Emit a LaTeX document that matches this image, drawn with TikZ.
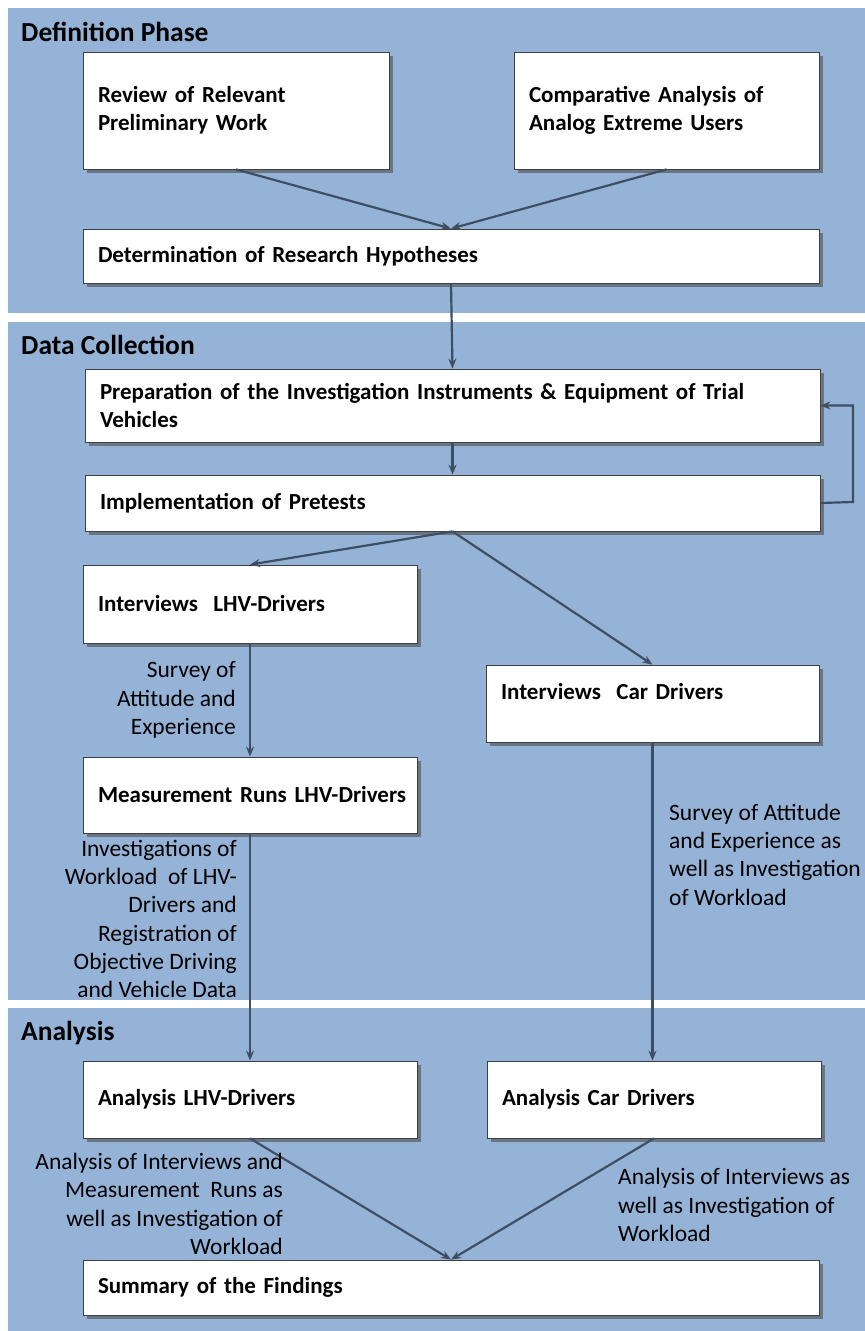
\documentclass[tikz,border=0pt]{standalone}
\usepackage{fontspec}
\setmainfont{Carlito}
\usetikzlibrary{arrows.meta,shadows}
\definecolor{panelblue}{HTML}{95B3D7}
\definecolor{arrowgray}{HTML}{3F4F63}
\definecolor{boxline}{HTML}{404040}
\tikzset{
  panel/.style={fill=panelblue, draw=none},
  phasetitle/.style={anchor=west, inner sep=0pt, font=\fontsize{27.5}{30}\selectfont\bfseries},
  stepbox/.style={draw=boxline, line width=0.8pt, fill=white, rectangle,
    inner xsep=15pt, inner ysep=0pt, align=left,
    font=\fontsize{23}{28}\selectfont\bfseries,
    drop shadow={opacity=0.6, shadow xshift=4pt, shadow yshift=-4pt, fill=black!70}},
  flowlabel/.style={inner sep=0pt, font=\fontsize{23.5}{28.3}\selectfont},
  flow/.style={draw=arrowgray, line width=2.2pt, -{Stealth[length=10pt,width=8pt]}},
}
\begin{document}
\begin{tikzpicture}[x=1pt,y=-1pt]
\useasboundingbox (0,0) rectangle (865,1331);
% panels
\fill[panel] (8,8) rectangle (865,313);
\fill[panel] (8,322) rectangle (865,1000);
\fill[panel] (8,1008) rectangle (865,1331);
\node[phasetitle] (t1) at (21,32) {Definition Phase};
\node[phasetitle] (t2) at (21,345) {Data Collection};
\node[phasetitle] (t3) at (21,1033) {Analysis};
% boxes
\node[stepbox, minimum width=306pt, minimum height=117pt, text width=276pt] (rev) at (236,110.5) {Review of Relevant\\Preliminary Work};
\node[stepbox, minimum width=305pt, minimum height=117pt, text width=275pt] (comp) at (666.5,110.5) {Comparative Analysis of\\Analog Extreme Users};
\node[stepbox, minimum width=736pt, minimum height=54pt, text width=706pt] (det) at (451,256) {Determination of Research Hypotheses};
\node[stepbox, minimum width=735pt, minimum height=73pt, text width=705pt] (prep) at (452.5,405.5) {Preparation of the Investigation Instruments \& Equipment of Trial\\Vehicles};
\node[stepbox, minimum width=735pt, minimum height=56pt, text width=705pt] (impl) at (452.5,503) {Implementation of Pretests};
\node[stepbox, minimum width=334pt, minimum height=78pt, text width=304pt] (ilhv) at (250,604) {Interviews\ \ LHV-Drivers};
\node[stepbox, minimum width=333pt, minimum height=77pt, text width=303pt] (icar) at (652.5,703.5) {Interviews\ \ Car Drivers\\[-4pt]\mbox{}};
\node[stepbox, minimum width=334pt, minimum height=76pt, text width=304pt] (meas) at (250,795) {\mbox{Measurement Runs LHV-Drivers}};
\node[stepbox, minimum width=334pt, minimum height=77pt, text width=304pt] (alhv) at (250,1099.5) {Analysis LHV-Drivers};
\node[stepbox, minimum width=334pt, minimum height=77pt, text width=304pt] (acar) at (654,1099.5) {Analysis Car Drivers};
\node[stepbox, minimum width=736pt, minimum height=55pt, text width=706pt] (sum) at (451,1287.5) {Summary of the Findings};
% connectors
\draw[flow] (rev.south) -- (det.north);
\draw[flow] (comp.south) -- (det.north);
\draw[flow] (det.south) -- (prep.north);
\draw[flow] (prep.south) -- (impl.north);
\coordinate (loop) at (853,502);
\draw[flow] (impl.east) -- (loop) |- (prep.east);
\draw[flow] (impl.south) -- (ilhv.north);
\draw[flow] (impl.south) -- (icar.north);
\draw[flow] (ilhv.south) -- (meas.north);
\draw[flow] (meas.south) -- (alhv.north);
\coordinate (acartop) at (icar.south |- acar.north);
\draw[flow] (icar.south) -- (acartop);
\draw[flow] (alhv.south) -- (sum.north);
\draw[flow] (acar.south) -- (sum.north);
% labels
\node[flowlabel, anchor=east, align=right] (l1) at (236,700) {Survey of\\Attitude and\\Experience};
\node[flowlabel, anchor=east, align=right] (l2) at (237,919) {Investigations of\\Workload\ \ of LHV-\\Drivers and\\Registration of\\Objective Driving\\and Vehicle Data};
\node[flowlabel, anchor=west, align=left] (l3) at (669,854.5) {Survey of Attitude\\and Experience as\\well as Investigation\\of Workload};
\node[flowlabel, anchor=east, align=right] (l4) at (283,1204) {Analysis of Interviews and\\Measurement\ \ Runs as\\well as Investigation of\\Workload};
\node[flowlabel, anchor=west, align=left] (l5) at (618,1205) {Analysis of Interviews as\\well as Investigation of\\Workload};
\end{tikzpicture}
\end{document}
